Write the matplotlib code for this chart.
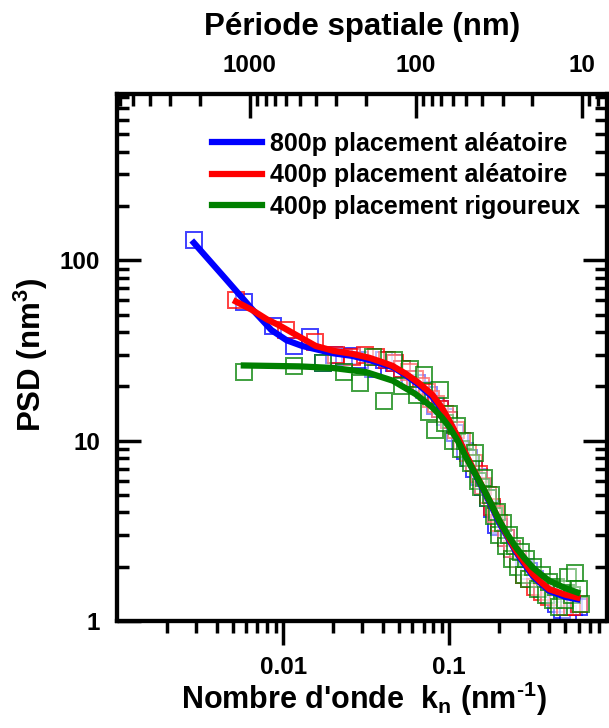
import numpy as np
import matplotlib
matplotlib.use('Agg')
import matplotlib.pyplot as plt
from matplotlib.ticker import NullFormatter

plt.rcParams['font.family'] = ['Liberation Sans', 'DejaVu Sans']
plt.rcParams['font.weight'] = 'bold'
plt.rcParams['mathtext.fontset'] = 'custom'
plt.rcParams['mathtext.rm'] = 'Liberation Sans:bold'
plt.rcParams['mathtext.bf'] = 'Liberation Sans:bold'
plt.rcParams['mathtext.it'] = 'Liberation Sans:bold'

# measured PSD, 800 particles random placement
k_800a = [0.0029, 0.0058, 0.0087, 0.0116, 0.0145, 0.0174, 0.0203, 0.0232, 0.0261, 0.029,
          0.0348, 0.0406, 0.0464, 0.052, 0.058, 0.064, 0.070, 0.076, 0.082, 0.088,
          0.094, 0.100, 0.108, 0.116, 0.124, 0.132, 0.140, 0.150, 0.160, 0.170,
          0.180, 0.190, 0.20, 0.22, 0.24, 0.26, 0.28, 0.30, 0.33, 0.36,
          0.40, 0.44, 0.48, 0.52, 0.56, 0.60]
psd_800a = [130, 59, 43, 33.5, 37.5, 27, 30, 29, 29.5, 28,
            25, 28, 27, 25, 22, 21, 19, 18, 15.5, 15,
            13.5, 13, 11, 10, 8.8, 8, 7, 6.3, 5.5, 4.8,
            4.2, 3.4, 3.3, 2.9, 2.5, 2.2, 2.0, 1.9, 1.7, 1.5,
            1.4, 1.25, 1.15, 1.1, 1.2, 1.2]

# 400 particles random placement
k_400a = [0.0052, 0.0104, 0.0156, 0.0208, 0.026, 0.031, 0.036, 0.042, 0.047, 0.052,
          0.057, 0.062, 0.068, 0.073, 0.078, 0.083, 0.088, 0.094, 0.10, 0.11,
          0.12, 0.13, 0.14, 0.15, 0.16, 0.17, 0.18, 0.19, 0.20, 0.22,
          0.24, 0.26, 0.28, 0.30, 0.33, 0.36, 0.40, 0.45, 0.50, 0.55, 0.60]
psd_400a = [60, 41, 35, 30, 29, 30, 29, 28, 27, 25,
            24, 22, 20, 18.5, 17, 16, 15, 14, 13, 11.5,
            10, 8.5, 7.5, 6.5, 5.6, 5, 4.3, 3.9, 3.5, 2.9,
            2.5, 2.2, 1.8, 1.7, 1.55, 1.45, 1.35, 1.3, 1.2, 1.2, 1.25]

# 400 particles rigorous placement
k_400r = [0.0058, 0.0116, 0.0174, 0.0232, 0.029, 0.0348, 0.0406, 0.0464, 0.052, 0.058,
          0.064, 0.070, 0.076, 0.082, 0.088, 0.094, 0.10, 0.106, 0.112, 0.118,
          0.124, 0.13, 0.136, 0.142, 0.148, 0.155, 0.162, 0.17, 0.178, 0.186,
          0.194, 0.20, 0.21, 0.22, 0.23, 0.24, 0.25, 0.26, 0.27, 0.28,
          0.29, 0.30, 0.32, 0.34, 0.36, 0.38, 0.40, 0.42, 0.44, 0.46,
          0.48, 0.50, 0.52, 0.55, 0.57, 0.60, 0.62]
psd_400r = [24, 26, 27, 24, 21, 29, 16.5, 28, 20, 25,
            18, 23, 14.5, 11.5, 19, 12.5, 14, 10, 12, 9,
            10, 8, 7.5, 8.5, 6, 5.5, 6.2, 4.8, 5, 3.8,
            4, 3, 3.5, 2.6, 3, 2.2, 2.6, 2, 2.4, 1.8,
            2.2, 1.7, 2.0, 1.5, 1.8, 1.4, 1.65, 1.3, 1.55, 1.2,
            1.5, 1.3, 1.75, 1.4, 1.85, 1.5, 1.25]

# fitted curves
kfit_800a = [0.0029, 0.0045, 0.0065, 0.0085, 0.0105, 0.013, 0.016, 0.02, 0.026, 0.033,
             0.04, 0.046, 0.055, 0.065, 0.079, 0.09, 0.1, 0.113, 0.126, 0.14, 0.159,
             0.18, 0.2, 0.225, 0.253, 0.285, 0.318, 0.36, 0.4, 0.5, 0.59]
fit_800a = [125, 79, 53.6, 41, 36, 33.5, 32, 30.5, 29.5, 28,
            26.5, 25.5, 23, 20.5, 17.5, 15, 12.7, 10.3, 8.3, 6.8, 5.4,
            4.3, 3.5, 2.9, 2.4, 2.05, 1.78, 1.6, 1.47, 1.36, 1.32]
kfit_400a = [0.0052, 0.0065, 0.008, 0.0095, 0.012, 0.0157, 0.02, 0.026, 0.033, 0.0397,
             0.0454, 0.0547, 0.065, 0.079, 0.09, 0.1, 0.113, 0.126, 0.14, 0.159,
             0.18, 0.2, 0.225, 0.253, 0.285, 0.318, 0.36, 0.4, 0.5, 0.59]
fit_400a = [59, 53, 47, 43.5, 38.5, 33.5, 31.5, 30.3, 28.8, 27.2,
            26, 23.5, 21, 18, 15.3, 12.9, 10.4, 8.4, 6.9, 5.5,
            4.4, 3.6, 2.95, 2.45, 2.1, 1.82, 1.63, 1.5, 1.4, 1.35]
kfit_400r = [0.0058, 0.0125, 0.0198, 0.0315, 0.0457, 0.0628, 0.079, 0.09, 0.1, 0.113,
             0.126, 0.14, 0.159, 0.18, 0.2, 0.225, 0.253, 0.285, 0.318, 0.36, 0.4, 0.5, 0.59]
fit_400r = [26.1, 25.8, 25.3, 24, 21.5, 18.1, 15.3, 13.5, 11.9, 9.9,
            8.1, 6.8, 5.5, 4.4, 3.6, 3.0, 2.55, 2.22, 1.98, 1.8, 1.67, 1.52, 1.44]

labels = ['800p placement aléatoire', '400p placement aléatoire', '400p placement rigoureux']

fig = plt.figure(figsize=(6.09, 7.28), dpi=100)
ax = fig.add_axes([117/609, 107/728, 490/609, 527/728])

ax.plot(k_800a, psd_800a, 's', ms=12, mfc=(1, 1, 1, 0.4), mec=(0, 0, 1, 0.75), mew=1.4)
ax.plot(k_400a, psd_400a, 's', ms=12, mfc=(1, 1, 1, 0.4), mec=(1, 0, 0, 0.75), mew=1.4)
ax.plot(k_400r, psd_400r, 's', ms=12, mfc=(1, 1, 1, 0.4), mec=(0, 0.5, 0, 0.75), mew=1.4)
l1, = ax.plot(kfit_800a, fit_800a, '-', color='blue', lw=4.5)
l2, = ax.plot(kfit_400a, fit_400a, '-', color='red', lw=4.5)
l3, = ax.plot(kfit_400r, fit_400r, '-', color='green', lw=4.5)

ax.set_xscale('log')
ax.set_yscale('log')
ax.set_xlim(0.001, 0.89)
ax.set_ylim(1, 835)

ax.set_yticks([1, 10, 100])
ax.set_yticklabels(['1', '10', '100'])
ax.yaxis.set_minor_formatter(NullFormatter())
ax.set_xticks([0.01, 0.1])
ax.set_xticklabels(['0.01', '0.1'])
ax.xaxis.set_minor_formatter(NullFormatter())

ax.tick_params(axis='y', which='major', direction='in', length=17, width=2.5,
               labelsize=17.5, pad=12, right=True)
ax.tick_params(axis='y', which='minor', direction='in', length=8.5, width=2.5, right=True)
ax.tick_params(axis='x', which='major', direction='out', length=17, width=2.5,
               labelsize=17.5, pad=8)
ax.tick_params(axis='x', which='minor', direction='out', length=8.5, width=2.5)

# top axis: spatial period = 2*pi / k
ax2 = ax.twiny()
ax2.set_xscale('log')
ax2.set_xlim(2*np.pi/0.001, 2*np.pi/0.89)
ax2.set_xticks([1000, 100, 10])
ax2.set_xticklabels(['1000', '100', '10'])
ax2.xaxis.set_minor_formatter(NullFormatter())
ax2.tick_params(axis='x', which='major', direction='in', length=17, width=2.5,
                labelsize=17.5, pad=12)
ax2.tick_params(axis='x', which='minor', direction='in', length=8.5, width=2.5)

for a in (ax, ax2):
    for s in a.spines.values():
        s.set_linewidth(3)

ax.legend([l1, l2, l3], labels, loc='upper left', bbox_to_anchor=(0.193, 0.928),
          frameon=False, fontsize=18, handlelength=2.0, handletextpad=0.32,
          labelspacing=0.3, borderpad=0, borderaxespad=0)

fig.text(362/609, 1-35/728, 'Période spatiale (nm)', ha='center', va='baseline',
         fontsize=22.5, fontweight='bold')
fig.text(364/609, 1-709/728, r"Nombre d'onde  k$_n$ (nm$^{\text{-}1}$)", ha='center',
         va='baseline', fontsize=22, fontweight='bold')
fig.text(31/609, 1-355/728, 'PSD (nm$^3$)', ha='center', va='center', rotation=90,
         fontsize=22.5, fontweight='bold')

fig.savefig('out.png', dpi=100)
